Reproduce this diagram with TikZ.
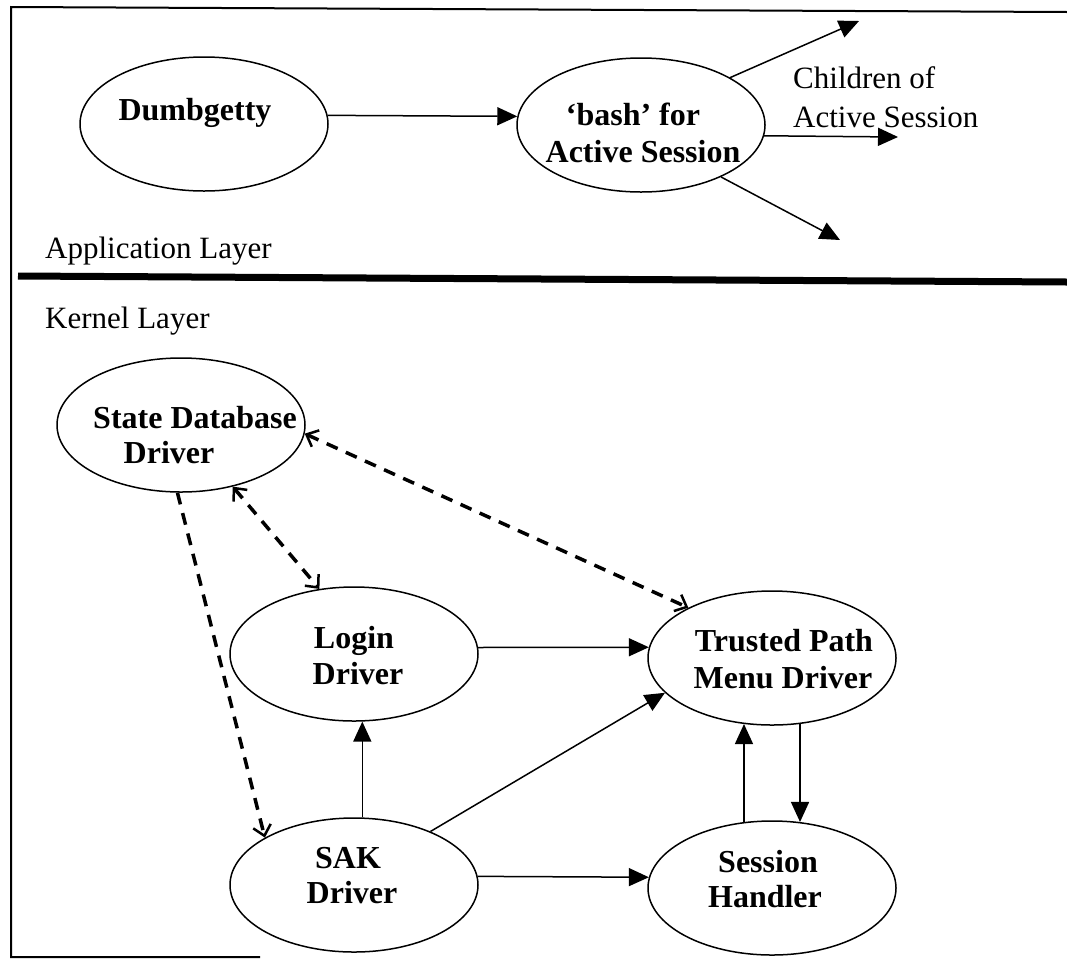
\documentclass[tikz,border=0pt]{standalone}
\usepackage{fontspec}
\setmainfont{Liberation Serif}
\usetikzlibrary{shapes.geometric,arrows.meta,calc}
\begin{document}
\begin{tikzpicture}[x=1pt,y=-1pt,
  ell/.style={draw,ellipse,line width=1.5pt,minimum width=248pt,minimum height=134pt,inner sep=0pt},
  bl/.style={font=\fontsize{32}{36}\selectfont\bfseries,anchor=base,inner sep=0pt},
  rl/.style={font=\fontsize{31}{36}\selectfont,anchor=base west,inner sep=0pt},
  arr/.style={line width=1.5pt,-{Triangle[length=20pt,width=18pt]}},
  barb/.tip={Straight Barb[length=10pt,width=18pt,line width=2.5pt]},
  darr/.style={line width=3.5pt,dash pattern=on 12pt off 9pt,-barb},
  ddarr/.style={line width=3.5pt,dash pattern=on 12pt off 9pt,barb-barb},
  frameline/.style={line width=2pt}]
\useasboundingbox (0,0) rectangle (1067,959);

% frame and layer separator
\draw[frameline] (1067,12) -- (11,7) -- (11,957) -- (260,957);
\draw[line width=7pt] (18,276) -- (1067,282);

% ellipses
\node[ell] (dumb) at (204,124) {};
\node[ell] (bash) at (641,125) {};
\node[ell] (sdd) at (181,425) {};
\node[ell] (login) at (354,654) {};
\node[ell] (tp) at (772,658) {};
\node[ell] (sak) at (354,885) {};
\node[ell] (sh) at (772,888) {};

% texts
\node[bl] (tdumb) at (195,120) {Dumbgetty};
\node[bl] (tbash1) at (633,125) {‘bash’ for};
\node[bl] (tbash2) at (643,162) {Active Session};
\node[rl] (tch1) at (793,88) {Children of};
\node[rl] (tch2) at (793,127) {Active Session};
\node[rl] (tapp) at (45,258) {Application Layer};
\node[rl] (tker) at (45,328) {Kernel Layer};
\node[bl] (tsdd1) at (195,428) {State Database};
\node[bl] (tsdd2) at (169,463) {Driver};
\node[bl] (tlog1) at (354,648) {Login};
\node[bl] (tlog2) at (358,684) {Driver};
\node[bl] (ttp1) at (784,651) {Trusted Path};
\node[bl] (ttp2) at (783,688) {Menu Driver};
\node[bl] (tsak1) at (348,868) {SAK};
\node[bl] (tsak2) at (352,903) {Driver};
\node[bl] (tsh1) at (768,872) {Session};
\node[bl] (tsh2) at (765,907) {Handler};

% free ends of the child arrows
\coordinate (c1) at (859,21);
\coordinate (c2) at (898,137);
\coordinate (c3) at (840,240);

% solid arrows
\draw[arr] (dumb.4) -- (bash.176);
\draw[arr] (bash.28) -- (c1);
\draw[arr] (bash.-5) -- (c2);
\draw[arr] (bash.-33) -- (c3);
\draw[arr] (login.3) -- (tp.175);
\draw[arr] (sak.83) -- (login.-83);
\draw[arr] (sak.35) -- (tp.198);
\draw[arr] (sak.4) -- (sh.175);
\draw[arr] (tp.-67) -- (sh.67);
\draw[arr] (sh.113) -- (tp.-113);

% dashed arrows
\draw[darr] (sdd.-93) -- (sak.152);
\draw[ddarr] (sdd.-50) -- (login.118);
\draw[ddarr] (sdd.-4) -- (tp.149);
\end{tikzpicture}
\end{document}
